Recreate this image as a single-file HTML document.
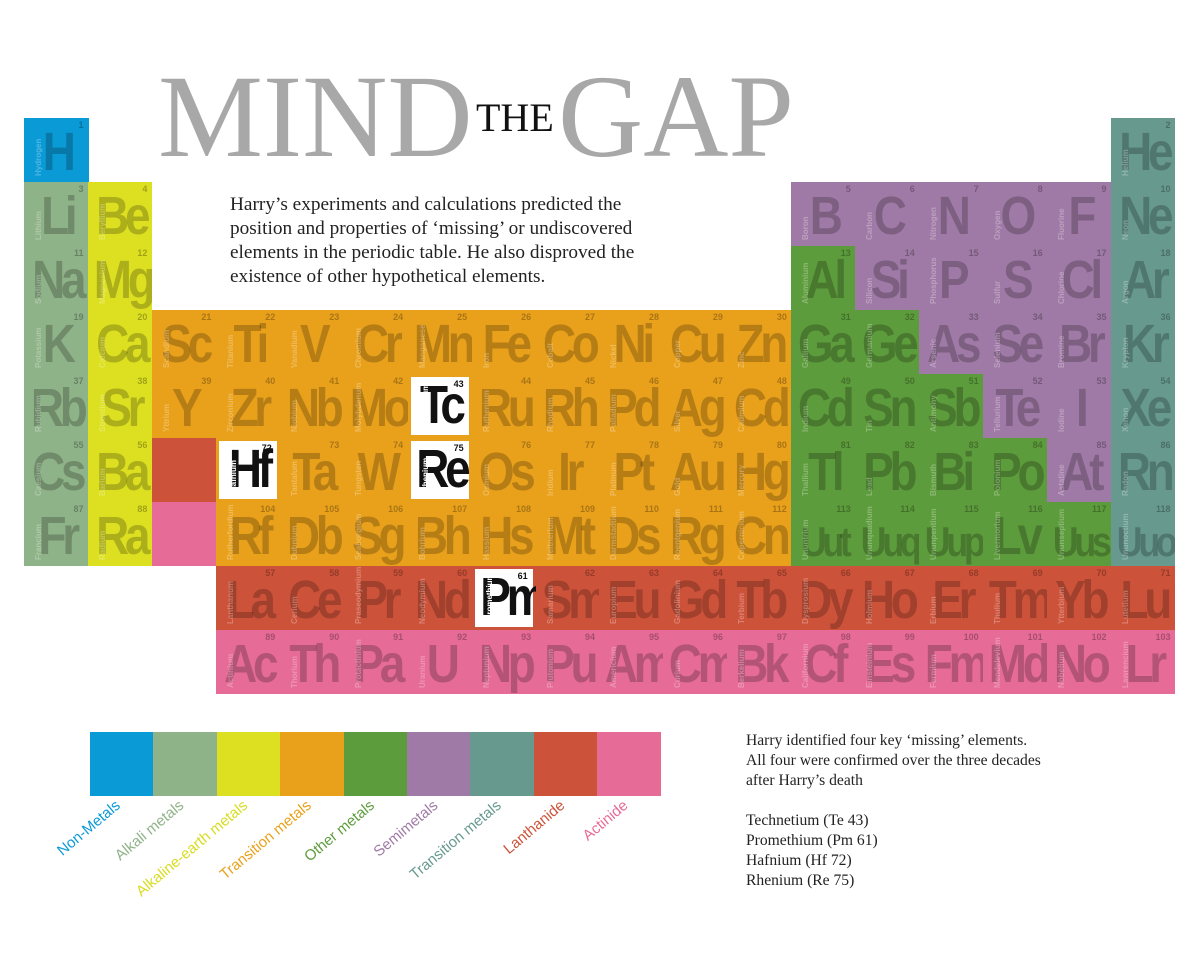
<!DOCTYPE html>
<html><head><meta charset="utf-8">
<style>
body{margin:0;background:#fff;}
#page{position:relative;width:1200px;height:960px;overflow:hidden;background:#fff;font-family:"Liberation Sans",sans-serif;}
.cell{position:absolute;width:64px;height:64px;overflow:hidden;}
.sym{position:absolute;left:0;right:0;bottom:3px;text-align:center;font-weight:bold;font-size:54px;letter-spacing:-5px;color:rgba(0,0,0,0.22);line-height:1;transform:scaleX(0.85);transform-origin:60% 100%;}
.num{position:absolute;right:5px;top:2px;font-size:9px;font-weight:bold;color:rgba(0,0,0,0.28);}
.nm{position:absolute;left:10px;bottom:6px;font-size:8px;font-weight:bold;color:rgba(255,255,255,0.28);transform:rotate(-90deg);transform-origin:0 0;white-space:nowrap;top:auto;}
.hl{position:absolute;left:3px;top:3px;width:58px;height:58px;background:#fff;}
.hl .sym{color:#111;}
.hl .num{color:#111;}
.hl .nm{color:#fff;background:#111;padding:0 1px;}
.title{position:absolute;font-family:"Liberation Serif",serif;color:#a8a8a8;font-size:118px;line-height:1;}
.para{position:absolute;left:230px;top:193px;font-family:"Liberation Serif",serif;font-size:19.3px;line-height:24px;color:#222;}
.note{position:absolute;left:746px;top:731px;font-family:"Liberation Serif",serif;font-size:15.6px;line-height:20px;color:#222;}
.sw{position:absolute;top:732px;height:64px;}
.lab{position:absolute;font-size:15px;white-space:nowrap;transform-origin:100% 100%;transform:rotate(-40deg);text-align:right;}
</style></head>
<body>
<div id="page">
<div class="title" style="left:158px;top:58px;">MIND</div>
<div class="title" style="left:476px;top:98px;font-size:40px;color:#111;">THE</div>
<div class="title" style="left:558px;top:58px;">GAP</div>
<div class="para">Harry’s experiments and calculations predicted the<br>position and properties of ‘missing’ or undiscovered<br>elements in the periodic table. He also disproved the<br>existence of other hypothetical elements.</div>
<div id="table"></div>
<div id="legend"></div>
<div class="note">Harry identified four key ‘missing’ elements.<br>All four were confirmed over the three decades<br>after Harry’s death<br><br>Technetium (Te 43)<br>Promethium (Pm 61)<br>Hafnium (Hf 72)<br>Rhenium (Re 75)</div>
</div>
<script>
const colors={nm:'#0a9ad6',alk:'#8fb388',ae:'#dde020',tr:'#e9a11c',ot:'#5d9c3c',se:'#a07aa6',ng:'#67998f',la:'#cd523a',ac:'#e66b97'};
const legendCats=['nm','alk','ae','tr','ot','se','ng','la','ac'];
const legendLabels=['Non-Metals','Alkali metals','Alkaline-earth metals','Transition metals','Other metals','Semimetals','Transition metals','Lanthanide','Actinide'];
const legendText=['#0a9ad6','#8fb388','#d8dc20','#e9a11c','#5d9c3c','#a07aa6','#67998f','#cd523a','#e66b97'];
// [symbol,name,number,row,col,category]
const elements=[
['H','Hydrogen',1,1,1,'nm'],['He','Helium',2,1,18,'ng'],
['Li','Lithium',3,2,1,'alk'],['Be','Beryllium',4,2,2,'ae'],['B','Boron',5,2,13,'se'],['C','Carbon',6,2,14,'se'],['N','Nitrogen',7,2,15,'se'],['O','Oxygen',8,2,16,'se'],['F','Fluorine',9,2,17,'se'],['Ne','Neon',10,2,18,'ng'],
['Na','Sodium',11,3,1,'alk'],['Mg','Magnesium',12,3,2,'ae'],['Al','Aluminium',13,3,13,'ot'],['Si','Silicon',14,3,14,'se'],['P','Phosphorus',15,3,15,'se'],['S','Sulfur',16,3,16,'se'],['Cl','Chlorine',17,3,17,'se'],['Ar','Argon',18,3,18,'ng'],
['K','Potassium',19,4,1,'alk'],['Ca','Calcium',20,4,2,'ae'],['Sc','Scandium',21,4,3,'tr'],['Ti','Titanium',22,4,4,'tr'],['V','Vanadium',23,4,5,'tr'],['Cr','Chromium',24,4,6,'tr'],['Mn','Manganese',25,4,7,'tr'],['Fe','Iron',26,4,8,'tr'],['Co','Cobalt',27,4,9,'tr'],['Ni','Nickel',28,4,10,'tr'],['Cu','Copper',29,4,11,'tr'],['Zn','Zinc',30,4,12,'tr'],['Ga','Gallium',31,4,13,'ot'],['Ge','Germanium',32,4,14,'ot'],['As','Arsenic',33,4,15,'se'],['Se','Selenium',34,4,16,'se'],['Br','Bromine',35,4,17,'se'],['Kr','Krypton',36,4,18,'ng'],
['Rb','Rubidium',37,5,1,'alk'],['Sr','Strontium',38,5,2,'ae'],['Y','Yttrium',39,5,3,'tr'],['Zr','Zirconium',40,5,4,'tr'],['Nb','Niobium',41,5,5,'tr'],['Mo','Molybdenum',42,5,6,'tr'],['Tc','Technetium',43,5,7,'tr'],['Ru','Ruthenium',44,5,8,'tr'],['Rh','Rhodium',45,5,9,'tr'],['Pd','Palladium',46,5,10,'tr'],['Ag','Silver',47,5,11,'tr'],['Cd','Cadmium',48,5,12,'tr'],['Cd','Indium',49,5,13,'ot'],['Sn','Tin',50,5,14,'ot'],['Sb','Antimony',51,5,15,'ot'],['Te','Tellurium',52,5,16,'se'],['I','Iodine',53,5,17,'se'],['Xe','Xenon',54,5,18,'ng'],
['Cs','Caesium',55,6,1,'alk'],['Ba','Barium',56,6,2,'ae'],['','',0,6,3,'la'],['Hf','Hafnium',72,6,4,'tr'],['Ta','Tantalum',73,6,5,'tr'],['W','Tungsten',74,6,6,'tr'],['Re','Rhenium',75,6,7,'tr'],['Os','Osmium',76,6,8,'tr'],['Ir','Iridium',77,6,9,'tr'],['Pt','Platinum',78,6,10,'tr'],['Au','Gold',79,6,11,'tr'],['Hg','Mercury',80,6,12,'tr'],['Tl','Thallium',81,6,13,'ot'],['Pb','Lead',82,6,14,'ot'],['Bi','Bismuth',83,6,15,'ot'],['Po','Polonium',84,6,16,'ot'],['At','Astatine',85,6,17,'se'],['Rn','Radon',86,6,18,'ng'],
['Fr','Francium',87,7,1,'alk'],['Ra','Radium',88,7,2,'ae'],['','',0,7,3,'ac'],['Rf','Rutherfordium',104,7,4,'tr'],['Db','Dubnium',105,7,5,'tr'],['Sg','Seaborgium',106,7,6,'tr'],['Bh','Bohrium',107,7,7,'tr'],['Hs','Hassium',108,7,8,'tr'],['Mt','Meitnerium',109,7,9,'tr'],['Ds','Darmstadtium',110,7,10,'tr'],['Rg','Roentgenium',111,7,11,'tr'],['Cn','Copernicium',112,7,12,'tr'],['Uut','Ununtrium',113,7,13,'ot'],['Uuq','Ununquadium',114,7,14,'ot'],['Uup','Ununpentium',115,7,15,'ot'],['Lv','Livermorium',116,7,16,'ot'],['Uus','Ununseptium',117,7,17,'ot'],['Uuo','Ununoctium',118,7,18,'ng'],
['La','Lanthanum',57,8,4,'la'],['Ce','Cerium',58,8,5,'la'],['Pr','Praseodymium',59,8,6,'la'],['Nd','Neodymium',60,8,7,'la'],['Pm','Promethium',61,8,8,'la'],['Sm','Samarium',62,8,9,'la'],['Eu','Europium',63,8,10,'la'],['Gd','Gadolinium',64,8,11,'la'],['Tb','Terbium',65,8,12,'la'],['Dy','Dysprosium',66,8,13,'la'],['Ho','Holmium',67,8,14,'la'],['Er','Erbium',68,8,15,'la'],['Tm','Thulium',69,8,16,'la'],['Yb','Ytterbium',70,8,17,'la'],['Lu','Lutetium',71,8,18,'la'],
['Ac','Actinium',89,9,4,'ac'],['Th','Thorium',90,9,5,'ac'],['Pa','Protactinium',91,9,6,'ac'],['U','Uranium',92,9,7,'ac'],['Np','Neptunium',93,9,8,'ac'],['Pu','Plutonium',94,9,9,'ac'],['Am','Americium',95,9,10,'ac'],['Cm','Curium',96,9,11,'ac'],['Bk','Berkelium',97,9,12,'ac'],['Cf','Californium',98,9,13,'ac'],['Es','Einsteinium',99,9,14,'ac'],['Fm','Fermium',100,9,15,'ac'],['Md','Mendelevium',101,9,16,'ac'],['No','Nobelium',102,9,17,'ac'],['Lr','Lawrencium',103,9,18,'ac']
];
const highlighted=[43,61,72,75];
function xPos(col){return 24+(col-1)*63.94;}
function yPos(row){return 118+(row-1)*64;}
const table=document.getElementById('table');
elements.forEach(e=>{
  const [sym,name,num,row,col,cat]=e;
  const c=document.createElement('div');
  c.className='cell';
  
  
  c.style.left=xPos(col)+'px';c.style.top=yPos(row)+'px';c.style.width='64.5px';
  c.style.background=colors[cat];
  let host=c;
  if(highlighted.includes(num)){const h=document.createElement('div');h.className='hl';c.appendChild(h);host=h;}
  if(sym){
    const s=document.createElement('div');s.className='sym';s.textContent=sym;
    if(sym.length===3){s.style.fontSize='42px';}
    host.appendChild(s);
    const n=document.createElement('div');n.className='num';n.textContent=num;host.appendChild(n);
    const m=document.createElement('div');m.className='nm';m.textContent=name;m.style.top=(host===c?58:52)+'px';host.appendChild(m);
  }
  table.appendChild(c);
});
const legend=document.getElementById('legend');
legendCats.forEach((cat,i)=>{
  const s=document.createElement('div');s.className='sw';
  
  
  s.style.left=(90+i*63.4)+'px';s.style.width='64px';s.style.background=colors[cat];
  legend.appendChild(s);
  const l=document.createElement('div');l.className='lab';
  
  
  l.textContent=legendLabels[i];l.style.color=legendText[i];
  const cx=90+i*63.4+34;
  l.style.right=(1200-cx)+'px';l.style.top=(810-17)+'px';
  legend.appendChild(l);
});
</script>
</body></html>
